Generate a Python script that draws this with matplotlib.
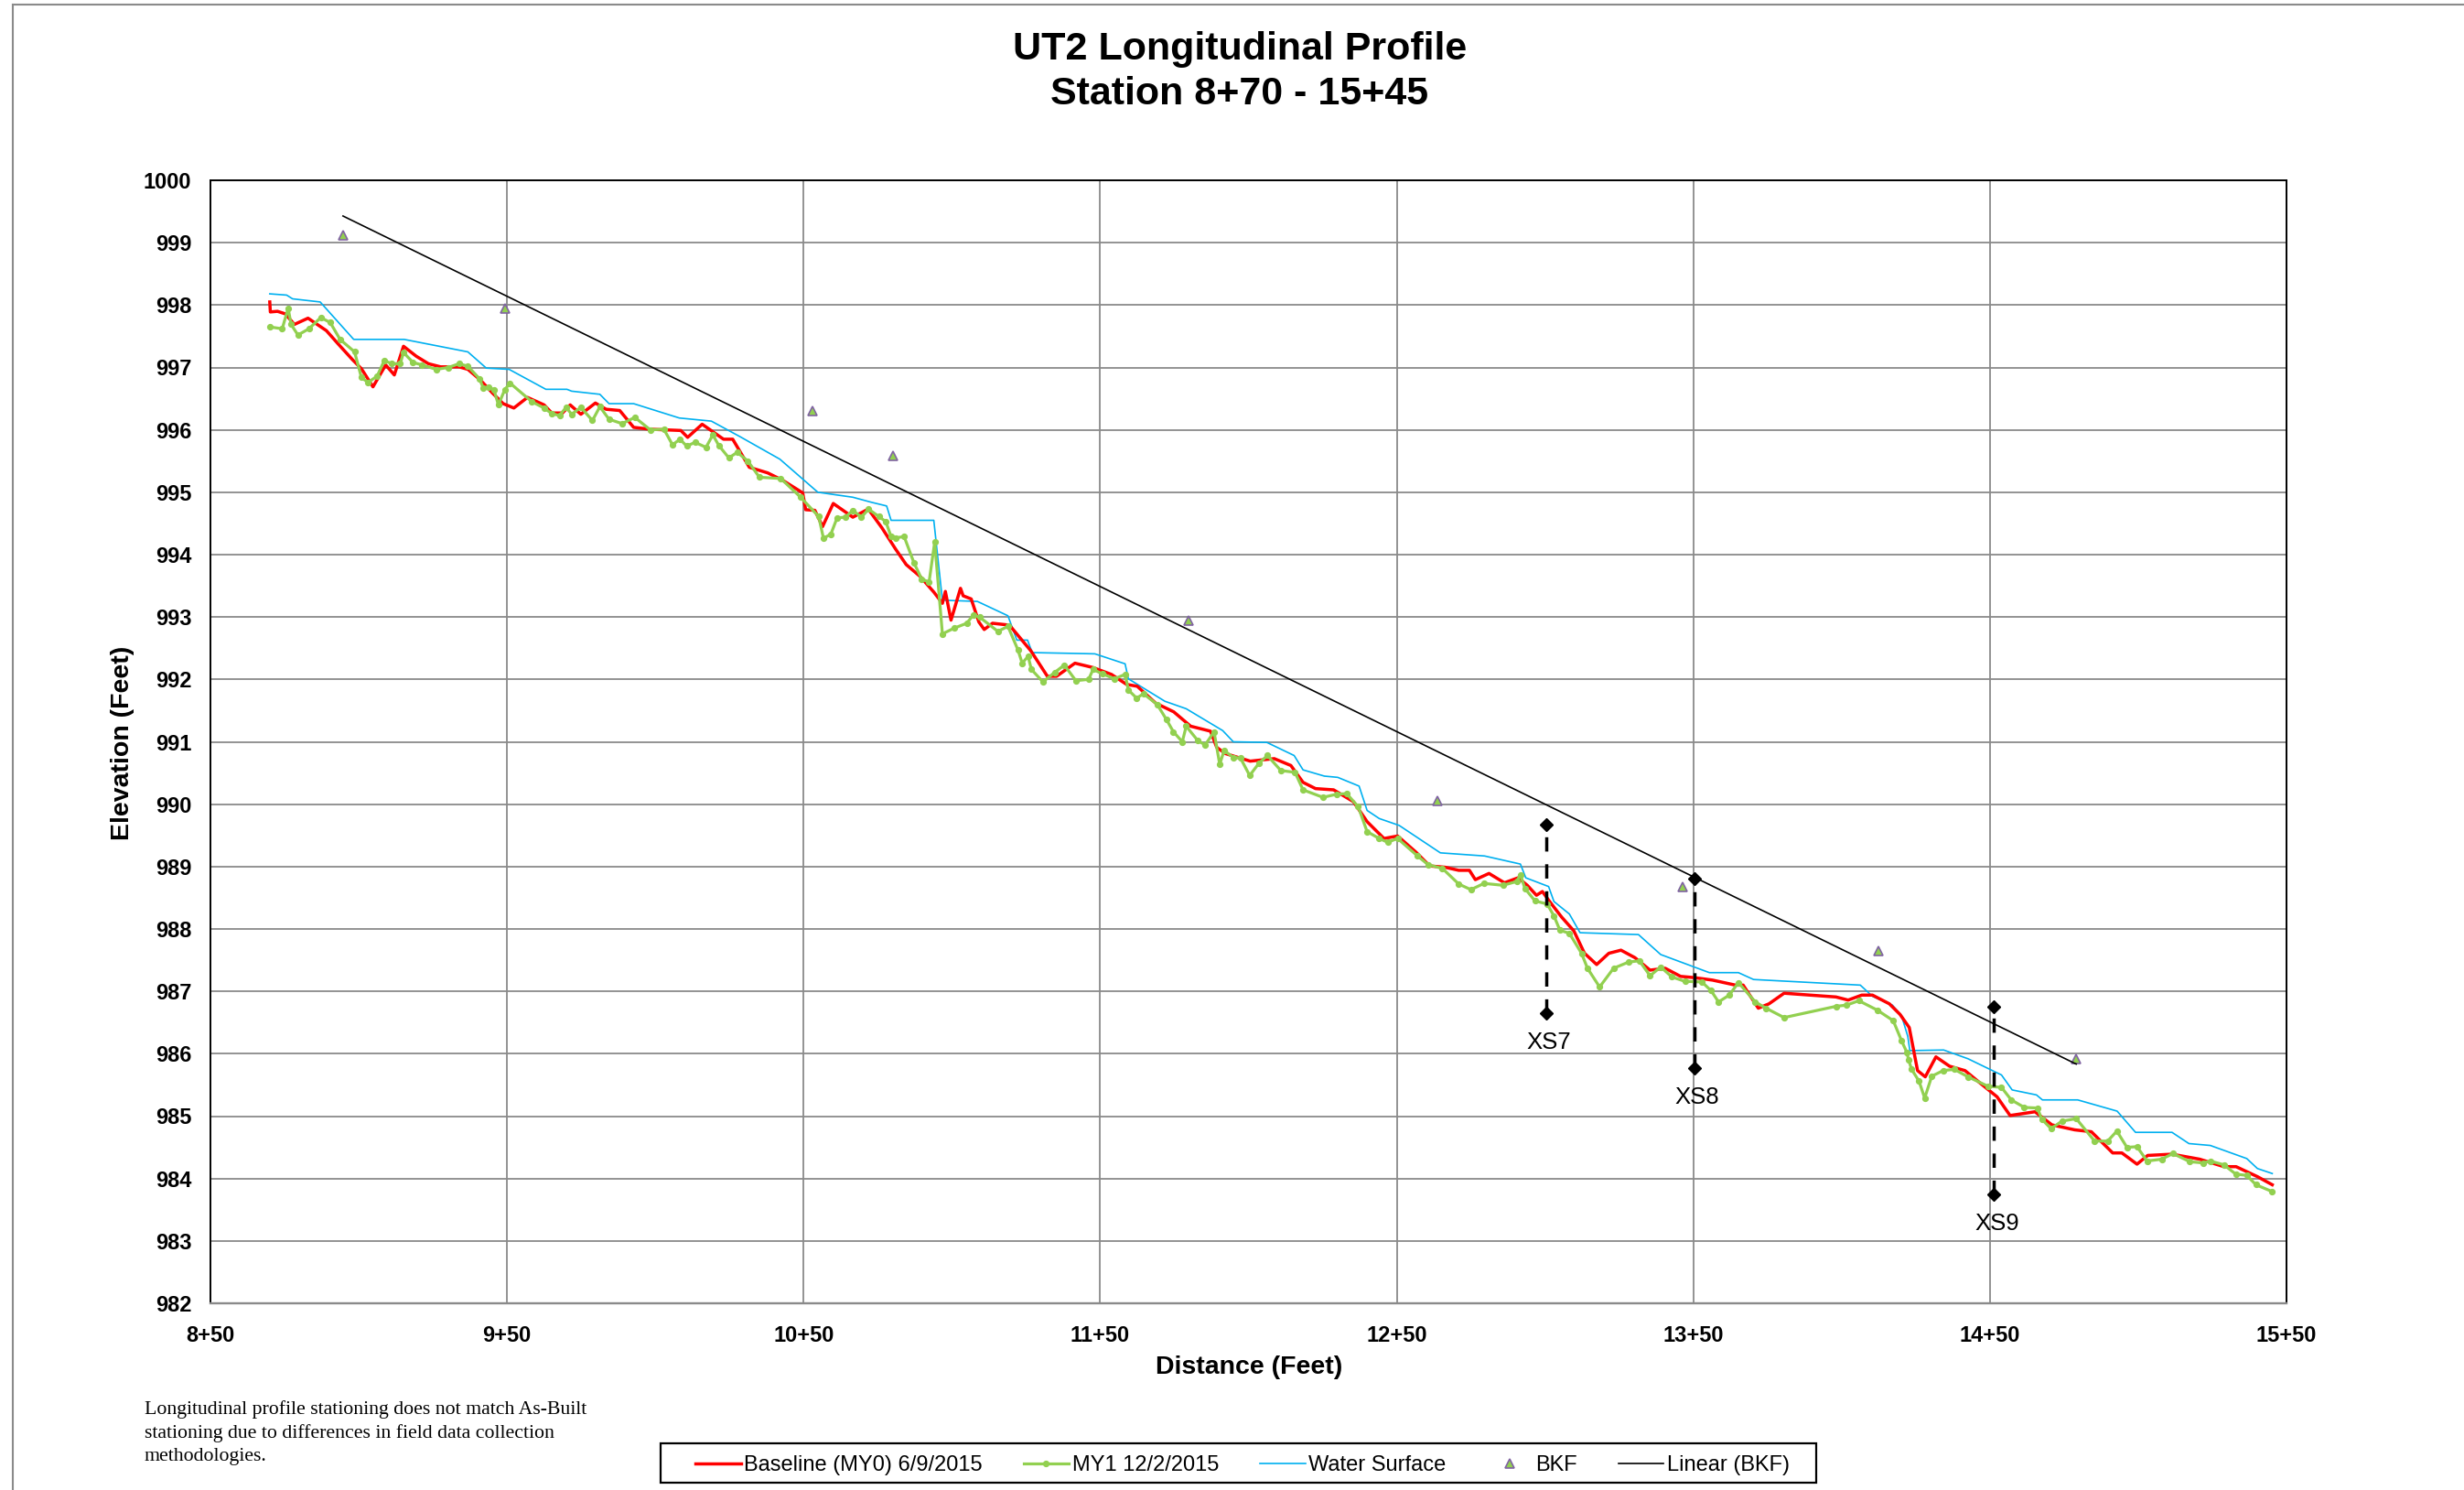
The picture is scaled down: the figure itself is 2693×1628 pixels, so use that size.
import numpy as np
import matplotlib
matplotlib.use('Agg')
import matplotlib.pyplot as plt
from matplotlib.lines import Line2D
from matplotlib.patches import Rectangle

plt.rcParams['font.family'] = ['Liberation Sans', 'DejaVu Sans']

# ---------------- data ----------------
baseline_x = [870.0, 870.2, 872.6, 875.2, 878.3, 882.9, 889.1, 893.2, 897.8, 900.9, 904.8, 909.1, 912.0,
              915.1, 919.4, 923.5, 927.6, 933.8, 936.8, 941.0, 945.1, 948.7, 952.3, 956.9, 962.5, 965.1,
              968.7, 971.3, 974.9, 979.8, 983.4, 988.0, 992.7, 998.3, 1008.6, 1010.9, 1015.8, 1023.0,
              1026.1, 1031.7, 1037.9, 1043.0, 1049.7, 1050.7, 1053.8, 1056.4, 1060.0, 1066.6, 1071.8,
              1076.4, 1081.0, 1084.6, 1089.3, 1093.9, 1096.8, 1097.8, 1099.7, 1102.9, 1103.8, 1106.5,
              1109.1, 1110.9, 1113.7, 1119.4, 1126.6, 1132.2, 1135.3, 1141.5, 1147.6, 1153.8, 1158.9,
              1162.5, 1168.7, 1174.8, 1180.5, 1187.2, 1189.3, 1192.3, 1200.6, 1208.7, 1214.3, 1218.4,
              1222.6, 1228.7, 1235.4, 1240.0, 1245.7, 1250.3, 1256.5, 1261.1, 1266.2, 1270.9, 1274.5,
              1276.5, 1281.1, 1286.3, 1290.9, 1294.0, 1297.1, 1299.1, 1301.7, 1305.6, 1309.7, 1313.3,
              1317.4, 1321.5, 1325.6, 1330.3, 1335.4, 1340.5, 1345.7, 1350.3, 1356.5, 1364.2, 1366.8,
              1371.9, 1375.5, 1380.6, 1398.1, 1402.2, 1406.8, 1410.4, 1416.1, 1419.7, 1422.8, 1425.6,
              1428.2, 1431.8, 1436.4, 1441.6, 1446.7, 1452.4, 1456.8, 1465.2, 1470.9, 1478.6, 1484.2,
              1491.4, 1494.5, 1499.6, 1503.2, 1511.4, 1520.7, 1528.9, 1533.0, 1540.2, 1545.2]
baseline_y = [998.05, 997.89, 997.90, 997.86, 997.69, 997.79, 997.59, 997.37, 997.13, 996.98, 996.69, 997.04,
              996.88, 997.34, 997.18, 997.06, 997.01, 997.01, 996.97, 996.80, 996.59, 996.42, 996.35,
              996.52, 996.40, 996.27, 996.27, 996.40, 996.25, 996.43, 996.33, 996.31, 996.04, 996.01,
              995.99, 995.88, 996.09, 995.85, 995.85, 995.40, 995.31, 995.19, 994.99, 994.72, 994.71,
              994.45, 994.82, 994.60, 994.73, 994.43, 994.09, 993.84, 993.65, 993.40, 993.22, 993.41,
              992.95, 993.46, 993.34, 993.29, 992.92, 992.80, 992.90, 992.87, 992.46, 992.05, 992.05,
              992.26, 992.19, 992.08, 991.92, 991.89, 991.62, 991.48, 991.25, 991.17, 990.91, 990.81,
              990.69, 990.73, 990.62, 990.35, 990.25, 990.23, 990.04, 989.72, 989.45, 989.49, 989.23,
              989.01, 988.99, 988.94, 988.94, 988.79, 988.89, 988.74, 988.82, 988.70, 988.54, 988.60,
              988.43, 988.19, 987.97, 987.61, 987.43, 987.61, 987.66, 987.54, 987.34, 987.37, 987.24,
              987.22, 987.18, 987.10, 987.10, 986.73, 986.80, 986.97, 986.91, 986.86, 986.94, 986.94,
              986.80, 986.63, 986.42, 985.73, 985.63, 985.95, 985.80, 985.73, 985.53, 985.31, 985.01,
              985.07, 984.86, 984.78, 984.75, 984.41, 984.41, 984.23, 984.37, 984.39, 984.31, 984.19,
              984.19, 984.03, 983.90]

my1_x = [870.0, 874.2, 876.2, 877.2, 879.5, 883.2, 887.2, 890.4, 893.7, 898.6, 900.9, 903.1, 906.2, 908.6,
         911.2, 914.0, 915.1, 918.3, 921.4, 926.1, 930.2, 933.8, 936.8, 940.7, 942.0, 943.8, 945.6, 947.1,
         949.2, 951.0, 958.4, 962.5, 965.1, 967.7, 969.9, 971.8, 974.9, 978.8, 981.3, 984.4, 988.8, 993.1,
         998.3, 1002.9, 1005.8, 1008.3, 1010.6, 1013.4, 1017.1, 1019.4, 1021.4, 1024.8, 1027.6, 1031.2,
         1035.1, 1042.3, 1049.0, 1055.1, 1056.7, 1059.2, 1061.3, 1064.1, 1066.6, 1069.5, 1071.9, 1075.4,
         1077.7, 1079.5, 1081.2, 1083.9, 1087.2, 1089.8, 1092.3, 1094.2, 1096.8, 1100.7, 1105.0, 1107.2,
         1109.3, 1115.5, 1118.9, 1122.3, 1123.7, 1125.7, 1126.8, 1130.7, 1134.6, 1137.9, 1141.8, 1146.1,
         1147.6, 1150.7, 1154.8, 1158.4, 1159.5, 1162.3, 1164.6, 1169.2, 1172.3, 1174.7, 1177.7, 1179.0,
         1182.9, 1185.4, 1188.4, 1190.3, 1191.8, 1194.9, 1197.3, 1200.4, 1203.6, 1206.4, 1210.9, 1215.7,
         1218.4, 1225.1, 1229.8, 1233.1, 1237.0, 1240.0, 1244.1, 1246.9, 1250.3, 1257.0, 1260.6, 1265.4,
         1270.9, 1275.0, 1279.4, 1285.8, 1290.4, 1291.7, 1293.2, 1296.6, 1300.7, 1303.0, 1305.0, 1308.2,
         1312.3, 1314.3, 1318.4, 1323.1, 1328.2, 1331.8, 1335.4, 1339.0, 1342.8, 1347.2, 1352.9, 1356.0,
         1358.5, 1362.1, 1365.2, 1370.9, 1374.5, 1380.6, 1398.1, 1401.7, 1405.8, 1412.0, 1417.4, 1420.2,
         1422.0, 1422.6, 1423.6, 1426.1, 1428.0, 1430.4, 1434.2, 1438.0, 1442.6, 1449.3, 1453.9, 1457.2,
         1461.6, 1466.0, 1467.5, 1470.6, 1474.3, 1479.1, 1485.3, 1489.7, 1492.8, 1496.2, 1499.6, 1503.0,
         1507.9, 1511.7, 1517.4, 1521.8, 1524.3, 1528.9, 1532.9, 1536.6, 1539.7, 1545.2]
my1_y = [997.65, 997.62, 997.95, 997.69, 997.52, 997.62, 997.80, 997.72, 997.45, 997.25, 996.84, 996.76,
         996.86, 997.11, 997.06, 997.06, 997.24, 997.08, 997.04, 996.97, 997.00, 997.06, 997.02, 996.82,
         996.67, 996.69, 996.64, 996.40, 996.64, 996.75, 996.45, 996.35, 996.26, 996.23, 996.36, 996.25,
         996.36, 996.15, 996.37, 996.17, 996.10, 996.20, 996.00, 996.01, 995.76, 995.85, 995.74, 995.80,
         995.72, 995.92, 995.75, 995.55, 995.64, 995.50, 995.24, 995.22, 994.92, 994.61, 994.26, 994.33,
         994.59, 994.60, 994.71, 994.60, 994.73, 994.61, 994.53, 994.29, 994.27, 994.29, 993.87, 993.61,
         993.56, 994.20, 992.73, 992.82, 992.90, 993.03, 993.00, 992.77, 992.85, 992.47, 992.26, 992.37,
         992.16, 991.96, 992.11, 992.23, 991.98, 992.00, 992.16, 992.09, 992.01, 992.08, 991.83, 991.70,
         991.77, 991.60, 991.36, 991.16, 991.00, 991.25, 991.02, 990.95, 991.16, 990.64, 990.86, 990.75,
         990.74, 990.46, 990.66, 990.78, 990.54, 990.51, 990.23, 990.11, 990.16, 990.17, 989.96, 989.56,
         989.45, 989.39, 989.45, 989.17, 989.03, 988.97, 988.72, 988.63, 988.73, 988.70, 988.76, 988.87,
         988.65, 988.45, 988.40, 988.21, 987.98, 987.93, 987.61, 987.37, 987.07, 987.37, 987.47, 987.49,
         987.25, 987.39, 987.23, 987.16, 987.15, 987.01, 986.83, 986.94, 987.14, 986.83, 986.73, 986.58,
         986.76, 986.78, 986.85, 986.70, 986.53, 986.21, 986.02, 985.90, 985.75, 985.56, 985.29, 985.64,
         985.73, 985.75, 985.63, 985.48, 985.46, 985.26, 985.14, 985.13, 984.95, 984.80, 984.92, 984.96,
         984.60, 984.60, 984.76, 984.50, 984.51, 984.28, 984.31, 984.40, 984.27, 984.25, 984.28, 984.22,
         984.07, 984.05, 983.90, 983.79]

water_x = [870.0, 875.7, 877.7, 887.0, 898.3, 915.3, 936.8, 943.0, 950.7, 963.1, 970.2, 971.8, 981.3, 984.4,
           992.7, 1008.1, 1018.9, 1028.6, 1042.0, 1054.8, 1066.6, 1072.8, 1078.0, 1079.5, 1093.9, 1096.8,
           1108.6, 1118.9, 1121.9, 1125.5, 1127.1, 1148.2, 1158.4, 1159.5, 1171.8, 1179.0, 1191.3, 1194.9,
           1206.2, 1215.4, 1218.4, 1225.6, 1230.1, 1237.3, 1240.0, 1244.1, 1250.8, 1264.7, 1279.6, 1291.7,
           1293.5, 1301.2, 1303.0, 1308.2, 1311.8, 1331.5, 1339.0, 1355.4, 1365.2, 1370.3, 1406.3, 1410.4,
           1417.1, 1420.2, 1422.3, 1423.0, 1434.4, 1442.6, 1453.9, 1457.5, 1465.7, 1467.7, 1479.6, 1492.9,
           1499.1, 1511.4, 1517.1, 1524.3, 1536.6, 1540.2, 1545.2]
water_y = [998.18, 998.16, 998.10, 998.05, 997.45, 997.45, 997.25, 996.99, 996.97, 996.65, 996.65, 996.62,
           996.57, 996.42, 996.42, 996.19, 996.14, 995.89, 995.53, 995.00, 994.92, 994.84, 994.78, 994.55,
           994.55, 993.27, 993.25, 993.02, 992.63, 992.63, 992.43, 992.41, 992.25, 992.01, 991.65, 991.53,
           991.18, 991.00, 990.99, 990.78, 990.55, 990.45, 990.43, 990.29, 989.90, 989.77, 989.66, 989.22,
           989.17, 989.04, 988.82, 988.68, 988.44, 988.24, 987.94, 987.91, 987.59, 987.30, 987.30, 987.19,
           987.10, 986.92, 986.78, 986.61, 986.28, 986.05, 986.06, 985.92, 985.66, 985.42, 985.34, 985.26,
           985.26, 985.08, 984.74, 984.74, 984.56, 984.53, 984.32, 984.16, 984.08]

bkf_x = [894.7, 949.2, 1053.1, 1080.2, 1179.8, 1263.7, 1346.5, 1412.5, 1479.1]
bkf_y = [999.12, 997.95, 996.31, 995.58, 992.95, 990.06, 988.68, 987.65, 985.92]

xs_names = ['XS7', 'XS8', 'XS9']
xs_station = [1300.4, 1350.3, 1451.3]
xs_top = [989.67, 988.81, 986.75]
xs_bottom = [986.65, 985.77, 983.75]

x_ticks = [850, 950, 1050, 1150, 1250, 1350, 1450, 1550]
x_tick_labels = ['8+50', '9+50', '10+50', '11+50', '12+50', '13+50', '14+50', '15+50']
y_ticks = list(range(982, 1001))

legend_labels = ['Baseline (MY0) 6/9/2015', 'MY1 12/2/2015', 'Water Surface', 'BKF', 'Linear (BKF)']

title_lines = ['UT2 Longitudinal Profile', 'Station 8+70 - 15+45']
note_text = ('Longitudinal profile stationing does not match As-Built\n'
             'stationing due to differences in field data collection\n'
             'methodologies.')

# ---------------- figure ----------------
W, H = 2693, 1628
DPI = 100
fig = plt.figure(figsize=(W / DPI, H / DPI), dpi=DPI)
fig.patch.set_facecolor('white')

ax = fig.add_axes([230 / W, 1 - 1424 / H, (2499 - 230) / W, (1424 - 197) / H])
ax.set_xlim(850, 1550)
ax.set_ylim(982, 1000)
ax.set_xticks(x_ticks)
ax.set_xticklabels(x_tick_labels)
ax.set_yticks(y_ticks)
ax.tick_params(axis='both', length=0, labelsize=17)
ax.tick_params(axis='x', pad=17)
ax.tick_params(axis='y', pad=15)
for lab in ax.get_xticklabels() + ax.get_yticklabels():
    lab.set_fontweight('bold')
ax.grid(True, color='#8a8a8a', lw=1.3)
ax.set_axisbelow(True)
for side in ['top', 'right', 'left']:
    ax.spines[side].set_color('black')
    ax.spines[side].set_linewidth(1.4)
ax.spines['bottom'].set_color('#8a8a8a')
ax.spines['bottom'].set_linewidth(1.7)

h_water, = ax.plot(water_x, water_y, color='#00b0f0', lw=1.2, zorder=3)
h_base, = ax.plot(baseline_x, baseline_y, color='#ff0000', lw=2.5, zorder=4)
h_my1, = ax.plot(my1_x, my1_y, color='#92d050', lw=2.3, marker='o', ms=4.2, zorder=5)
h_bkf, = ax.plot(bkf_x, bkf_y, ls='none', marker='^', ms=7.5, markerfacecolor='#92d050',
                 markeredgecolor='#8064a2', markeredgewidth=1.2, zorder=6)

coef = np.polyfit(bkf_x, bkf_y, 1)
trend_x = np.array([min(bkf_x), max(bkf_x)])
h_lin, = ax.plot(trend_x, np.polyval(coef, trend_x), color='black', lw=1.2, zorder=6)

for name, xs, yt, yb in zip(xs_names, xs_station, xs_top, xs_bottom):
    ax.plot([xs, xs], [yb, yt], color='black', lw=2.5, ls=(0, (4.5, 4.0)),
            marker='D', ms=6.8, zorder=7)
    ax.text(xs + 1, yb - 0.47, name, ha='center', va='center', fontsize=18.5, zorder=7)

# titles and labels
fig.text(1355 / W, 1 - 54 / H, title_lines[0], ha='center', va='center', fontsize=31, fontweight='bold')
fig.text(1355 / W, 1 - 103 / H, title_lines[1], ha='center', va='center', fontsize=31, fontweight='bold')
fig.text(1365 / W, 1 - 1494 / H, 'Distance (Feet)', ha='center', va='center', fontsize=20.5, fontweight='bold')
fig.text(134 / W, 1 - 812 / H, 'Elevation (Feet)', ha='center', va='center', rotation=90,
         fontsize=20.5, fontweight='bold')
fig.text(158 / W, 1 - 1530 / H, note_text, ha='left', va='top', fontsize=15.7, linespacing=1.42,
         family=['Liberation Serif', 'DejaVu Serif'])

# legend
leg = fig.legend([h_base, h_my1, h_water, h_bkf, h_lin], legend_labels, loc='center',
                 bbox_to_anchor=(1358 / W, 1 - 1601 / H), ncol=5, frameon=False, fontsize=17,
                 handlelength=2.1, handletextpad=0.15, columnspacing=1.9, numpoints=1)
fig.add_artist(Rectangle((722 / W, 1 - 1620 / H), 1263 / W, 43 / H, transform=fig.transFigure,
                         fill=False, ec='black', lw=1.6))

# outer chart border
fig.add_artist(Line2D([14 / W, 1], [1 - 5 / H, 1 - 5 / H], transform=fig.transFigure, color='#8a8a8a', lw=1.5))
fig.add_artist(Line2D([14 / W, 14 / W], [0, 1 - 5 / H], transform=fig.transFigure, color='#8a8a8a', lw=1.5))

fig.savefig('out.png', dpi=DPI)
